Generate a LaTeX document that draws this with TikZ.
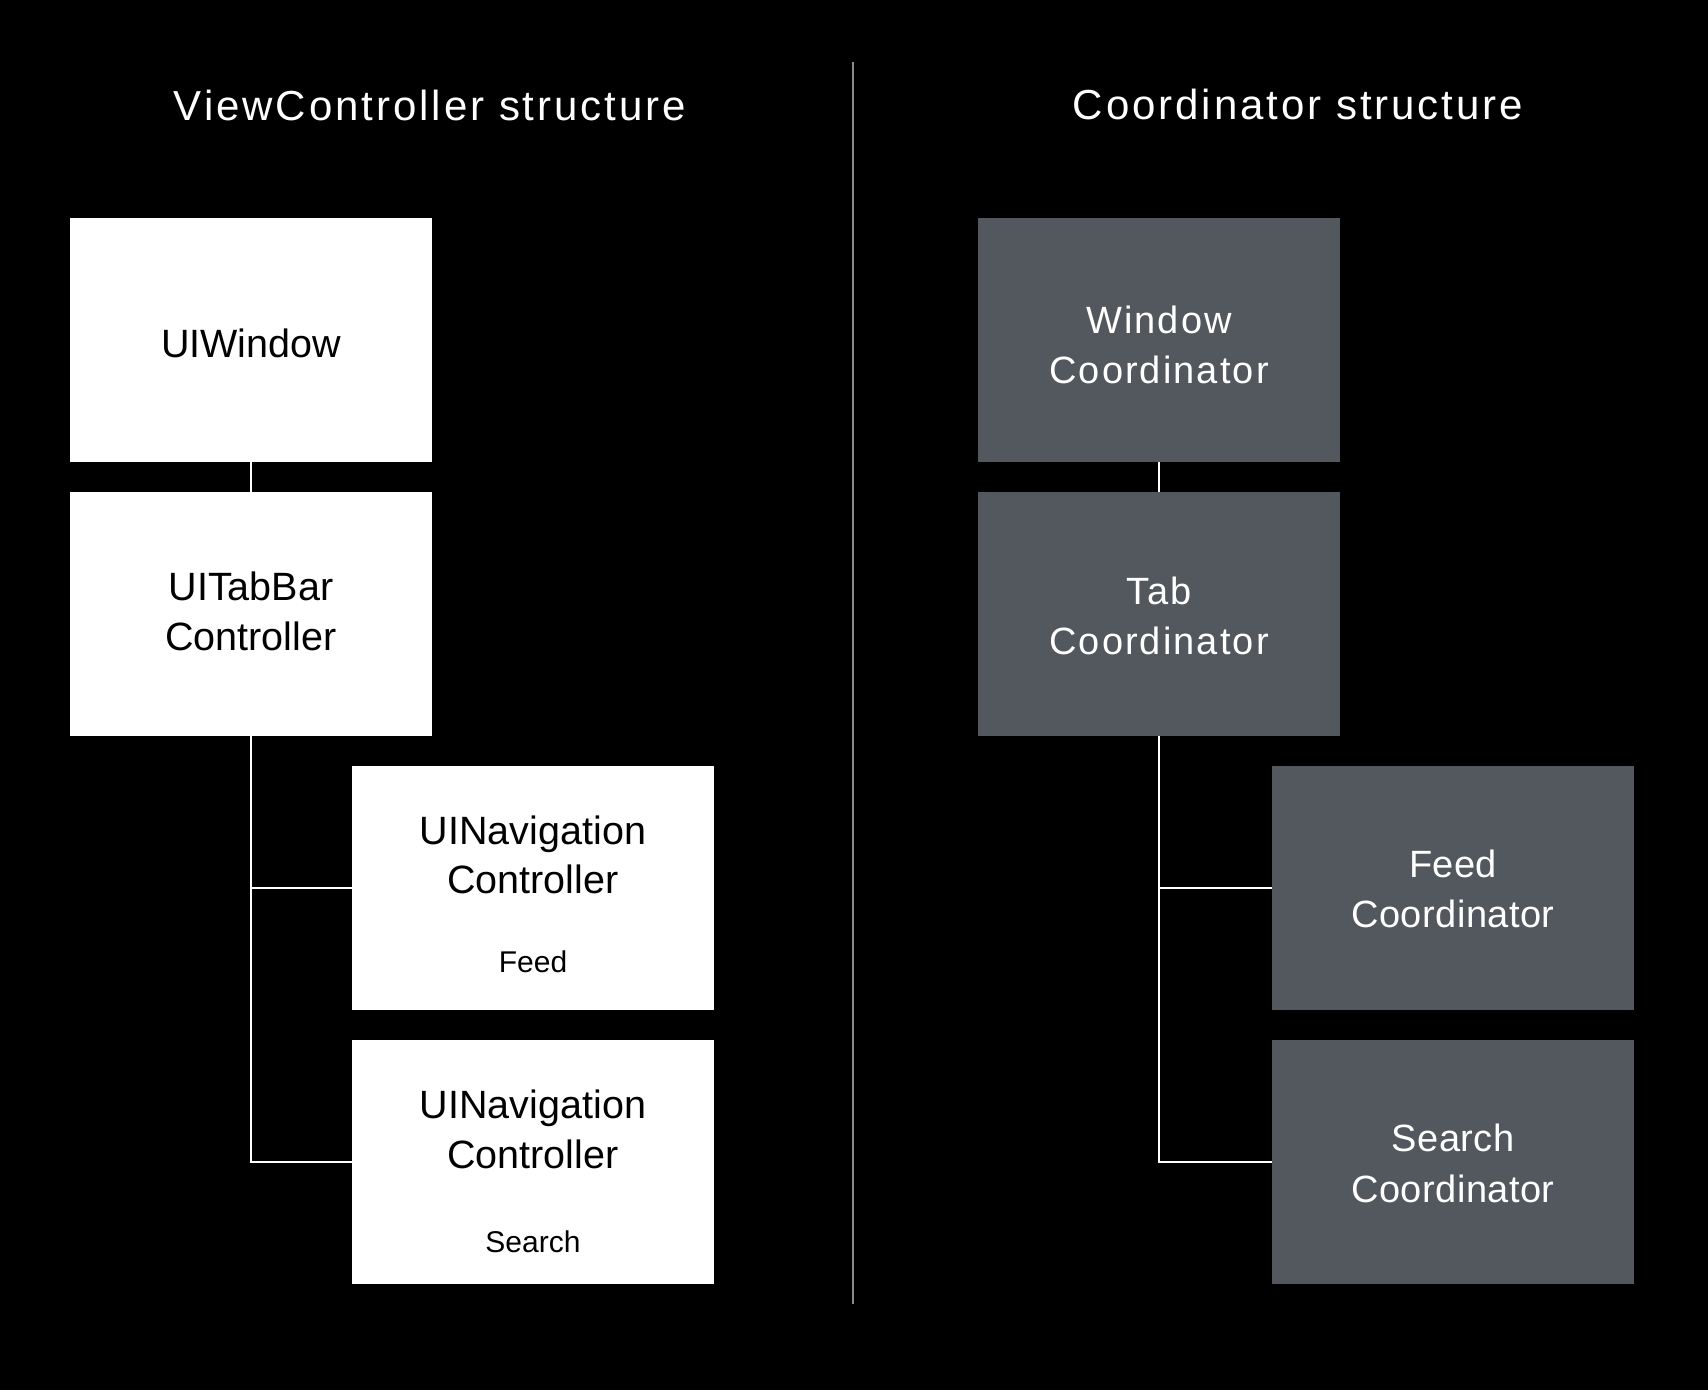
\documentclass[tikz,border=0pt]{standalone}
\usepackage{fontspec}
\setmainfont{Liberation Sans}
\newfontfamily\spacedfont[LetterSpace=5.5]{Liberation Sans}
\newfontfamily\tightfont[LetterSpace=1.2]{Liberation Sans}
\newfontfamily\titlefont[LetterSpace=7]{Liberation Sans}
\usetikzlibrary{calc}
\definecolor{boxgray}{HTML}{53575E}
\definecolor{divgray}{HTML}{8A8A8A}
\tikzset{
  box/.style={rectangle, minimum width=362pt, minimum height=244pt, inner sep=0pt, outer sep=0pt},
  wbox/.style={box, fill=white},
  gbox/.style={box, fill=boxgray},
  wlabel/.style={text=black, font=\fontsize{39.5}{46}\selectfont, anchor=base, inner sep=0pt},
  glabel/.style={text=white, font=\spacedfont\fontsize{38}{46}\selectfont, anchor=base, inner sep=0pt},
  glabelb/.style={text=white, font=\tightfont\fontsize{38}{46}\selectfont, anchor=base, inner sep=0pt},
  sublabel/.style={text=black, font=\fontsize{30}{34}\selectfont, anchor=base, inner sep=0pt},
  titlelabel/.style={text=white, font=\titlefont\fontsize{42}{50}\selectfont, anchor=base, inner sep=0pt},
  conn/.style={draw=white, line width=2pt},
  divider/.style={draw=divgray, line width=2pt}
}
\begin{document}
\begin{tikzpicture}[x=1pt,y=-1pt]
\useasboundingbox[fill=black] (0,0) rectangle (1708,1390);

% titles
\node[titlelabel] (t1) at (430,120) {ViewController structure};
\node[titlelabel] (t2) at (1298,119) {Coordinator structure};

% divider
\coordinate (dtop) at (853,62);
\coordinate (dbot) at (853,1304);
\draw[divider] (dtop) -- (dbot);

% left boxes
\node[wbox] (uiw) at (251,340) {};
\node[wbox] (tab) at (251,614) {};
\node[wbox] (nf) at (533,888) {};
\node[wbox] (ns) at (533,1162) {};

% right boxes
\node[gbox] (wc) at (1159,340) {};
\node[gbox] (tc) at (1159,614) {};
\node[gbox] (fc) at (1453,888) {};
\node[gbox] (sc) at (1453,1162) {};

% connectors
\draw[conn] (uiw.south) -- (tab.north);
\draw[conn] (tab.south) |- (nf.west);
\draw[conn] (tab.south) |- (ns.west);
\draw[conn] (wc.south) -- (tc.north);
\draw[conn] (tc.south) |- (fc.west);
\draw[conn] (tc.south) |- (sc.west);

% left labels
\node[wlabel] (uiwA) at ($(uiw.center)+(0,17)$) {UIWindow};
\node[wlabel] (tabA) at ($(tab.center)+(0,-14)$) {UITabBar};
\node[wlabel] (tabB) at ($(tab.center)+(0,36)$) {Controller};
\node[wlabel] (nfA) at ($(nf.center)+(0,-44)$) {UINavigation};
\node[wlabel] (nfB) at ($(nf.center)+(0,5)$) {Controller};
\node[sublabel] (nfC) at ($(nf.center)+(0,84)$) {Feed};
\node[wlabel] (nsA) at ($(ns.center)+(0,-44)$) {UINavigation};
\node[wlabel] (nsB) at ($(ns.center)+(0,6)$) {Controller};
\node[sublabel] (nsC) at ($(ns.center)+(0,90)$) {Search};

% right labels
\node[glabel] (wcA) at ($(wc.center)+(0,-7)$) {Window};
\node[glabel] (wcB) at ($(wc.center)+(0,43)$) {Coordinator};
\node[glabel] (tcA) at ($(tc.center)+(0,-10)$) {Tab};
\node[glabel] (tcB) at ($(tc.center)+(0,40)$) {Coordinator};
\node[glabelb] (fcA) at ($(fc.center)+(0,-11)$) {Feed};
\node[glabelb] (fcB) at ($(fc.center)+(0,39)$) {Coordinator};
\node[glabelb] (scA) at ($(sc.center)+(0,-11)$) {Search};
\node[glabelb] (scB) at ($(sc.center)+(0,40)$) {Coordinator};
\end{tikzpicture}
\end{document}
